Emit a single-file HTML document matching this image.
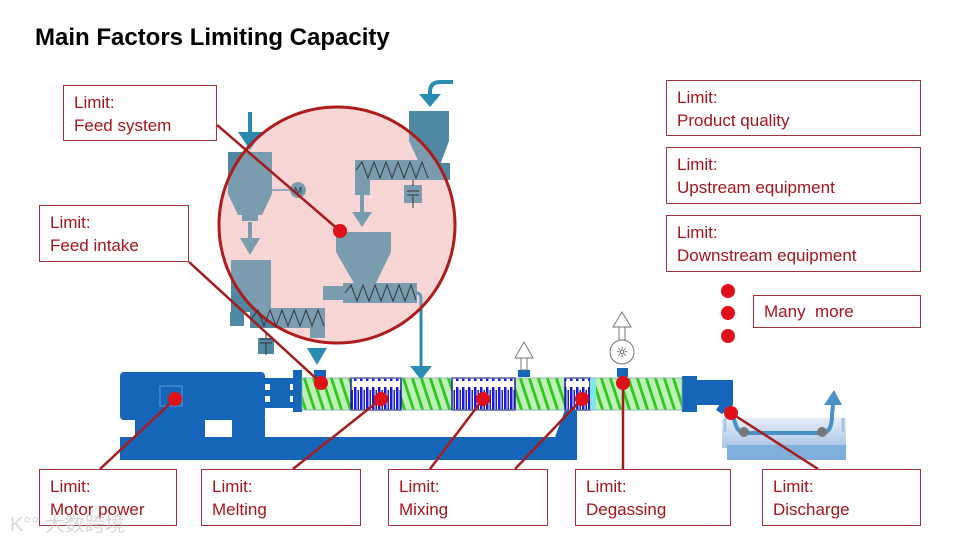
<!DOCTYPE html>
<html><head><meta charset="utf-8"><style>
body{margin:0;background:#fff;}
.box{position:absolute;border:1.3px solid #a8323a;background:#fff;box-sizing:border-box;color:#a8141c;font:17px/23px "Liberation Sans",sans-serif;padding:5px 0 0 10px;}
</style></head><body>
<div style="position:relative;width:960px;height:540px;overflow:hidden;font-family:'Liberation Sans',sans-serif;">
<svg width="960" height="540" style="position:absolute;left:0;top:0">
<defs>
<pattern id="gr" width="9" height="32" patternUnits="userSpaceOnUse" patternTransform="skewX(18)">
<rect width="9" height="32" fill="#bff0b8"/><rect x="0" width="3" height="32" fill="#2ec820"/></pattern>
<pattern id="bl" width="6" height="32" patternUnits="userSpaceOnUse">
<rect width="6" height="32" fill="#fff"/><rect x="0" y="3" width="2.5" height="26" fill="#1a1adc"/><rect x="3.5" y="6" width="1.5" height="20" fill="#2020b0"/></pattern>
<linearGradient id="wb" x1="0" y1="0" x2="0" y2="1"><stop offset="0" stop-color="#e6eef8"/><stop offset="1" stop-color="#a9c4e2"/></linearGradient>
</defs>
<text x="35" y="45" font-size="24" font-weight="bold" fill="#000" font-family="Liberation Sans">Main Factors Limiting Capacity</text>
<circle cx="337" cy="225" r="118" fill="#f8d6d6"/>
<g fill="#4f88a2">
<rect x="248" y="112" width="4" height="24" fill="#2a8bb0"/><polygon points="238,132 262,132 250,150" fill="#2a8bb0"/>
<rect x="228" y="152" width="44" height="42"/><polygon points="228,194 272,194 262,215 238,215"/><rect x="242" y="215" width="16" height="6"/>
<line x1="272" y1="190" x2="290" y2="190" stroke="#4f88a2" stroke-width="1.5"/>
<circle cx="298" cy="190" r="8"/>
<rect x="248" y="222" width="4" height="20"/><polygon points="240,238 260,238 250,255"/>
<rect x="231" y="260" width="40" height="52"/><rect x="250" y="308" width="75" height="20"/><rect x="230" y="312" width="14" height="14"/>
<rect x="310" y="326" width="15" height="12"/><rect x="258" y="338" width="16" height="16"/>
<polygon points="307,348 327,348 317,365" fill="#2a8bb0"/>
<path d="M453,82 L440,82 Q430,82 430,92 L430,96" stroke="#2a8bb0" stroke-width="4" fill="none"/>
<polygon points="419,94 441,94 430,107" fill="#2a8bb0"/>
<rect x="409" y="111" width="40" height="30"/><polygon points="409,141 449,141 440,165 420,165"/>
<rect x="355" y="160" width="75" height="20"/><rect x="430" y="163" width="20" height="17"/><rect x="355" y="180" width="15" height="15"/>
<rect x="404" y="185" width="18" height="18"/>
<rect x="360" y="195" width="4" height="20"/><polygon points="352,212 372,212 362,227"/>
<rect x="336" y="232" width="55" height="20"/><polygon points="336,252 391,252 375,285 355,285"/>
<rect x="343" y="283" width="74" height="20"/><rect x="323" y="286" width="20" height="14"/>
<path d="M417,293 Q421,293 421,300 L421,370" stroke="#2a8bb0" stroke-width="3" fill="none"/>
<polygon points="410,366 432,366 421,380" fill="#2a8bb0"/>
</g>
<circle cx="337" cy="225" r="118" fill="rgba(248,214,214,0.25)" stroke="#b01c1c" stroke-width="3"/>
<g stroke="#333" stroke-width="1" fill="none">
<polyline points="252,318 258,310 264,326 270,310 276,326 282,310 288,326 294,310 300,326 306,310 312,326 318,310 324,326"/>
<polyline points="356,170 362,162 368,178 374,162 380,178 386,162 392,178 398,162 404,178 410,162 416,178 422,162 428,178"/>
<polyline points="345,293 351,285 357,301 363,285 369,301 375,285 381,301 387,285 393,301 399,285 405,301 411,285 416,300"/>
<path d="M266,333 v6 M260,339 h12 M260,343 h12 M266,343 v12"/>
<path d="M413,180 v6 M407,191 h12 M407,195 h12 M413,195 v13"/>
</g>
<text x="298" y="194" font-size="10" text-anchor="middle" fill="#234">M</text>
<g fill="#1566b8">
<rect x="120" y="372" width="145" height="48" rx="4"/>
<rect x="135" y="418" width="70" height="20"/><rect x="232" y="418" width="33" height="20"/>
<rect x="120" y="437" width="457" height="23"/>
<rect x="265" y="378" width="30" height="6"/><rect x="265" y="390" width="30" height="6"/><rect x="265" y="402" width="30" height="6"/>
<rect x="270" y="384" width="20" height="24"/>
<rect x="293" y="370" width="9" height="42"/>
<polygon points="565,410 577,410 577,437 555,437"/>
<rect x="682" y="376" width="15" height="36"/><rect x="697" y="380" width="36" height="25"/>
<polygon points="733,405 720,404 716,410 722,414"/>
<rect x="314" y="370" width="12" height="8"/><rect x="518" y="370" width="12" height="7"/><rect x="617" y="368" width="11" height="9"/>
</g>
<rect x="160" y="386" width="22" height="20" fill="none" stroke="#5a9ad8" stroke-width="1"/>
<rect x="302" y="378" width="380" height="32" fill="url(#gr)"/>
<rect x="351" y="378" width="50" height="32" fill="url(#bl)" stroke="#1a1a9c" stroke-width="1.5"/>
<rect x="452" y="378" width="63" height="32" fill="url(#bl)" stroke="#1a1a9c" stroke-width="1.5"/>
<rect x="565" y="378" width="25" height="32" fill="url(#bl)" stroke="#1a1a9c" stroke-width="1.5"/>
<rect x="590" y="378" width="6" height="32" fill="#7fe6ee"/>
<rect x="302" y="378" width="380" height="32" fill="none" stroke="#8ab" stroke-width="0.8"/>
<polygon points="524,342 515,358 533,358" fill="#fff" stroke="#777"/><rect x="521" y="358" width="6" height="12" fill="#fff" stroke="#777"/>
<polygon points="622,312 613,327 631,327" fill="#fff" stroke="#777"/><rect x="619" y="327" width="6" height="13" fill="#fff" stroke="#777"/>
<circle cx="622" cy="352" r="12" fill="#fff" stroke="#777"/><text x="622" y="357" font-size="14" text-anchor="middle" fill="#333" font-family="DejaVu Sans">☼</text>
<rect x="722" y="418" width="124" height="30" fill="url(#wb)"/>
<rect x="727" y="445" width="119" height="15" fill="#7fb0dc"/>
<path d="M725,418 V432 M843,418 V432" stroke="#a9c4e2" stroke-width="3"/>
<path d="M733,412 Q735,433 745,433 L822,433 Q832,433 832,415 L833,404" stroke="#4a90c8" stroke-width="4" fill="none"/>
<polygon points="824,405 842,405 834,390" fill="#4a90c8"/>
<circle cx="744" cy="432" r="5" fill="#777"/><circle cx="822" cy="432" r="5" fill="#777"/>
<g stroke="#a51c1c" stroke-width="2.5">
<line x1="217" y1="125" x2="340" y2="231"/>
<line x1="189" y1="262" x2="321" y2="383"/>
<line x1="100" y1="469" x2="175" y2="399"/>
<line x1="293" y1="469" x2="381" y2="399"/>
<line x1="430" y1="469" x2="483" y2="399"/>
<line x1="515" y1="469" x2="582" y2="399"/>
<line x1="623" y1="469" x2="623" y2="383"/>
<line x1="818" y1="469" x2="731" y2="413"/>
</g>
<g fill="#e0101a">
<circle cx="340" cy="231" r="7"/><circle cx="321" cy="383" r="7"/><circle cx="175" cy="399" r="7"/>
<circle cx="381" cy="399" r="7"/><circle cx="483" cy="399" r="7"/><circle cx="582" cy="399" r="7"/>
<circle cx="623" cy="383" r="7"/><circle cx="731" cy="413" r="7"/>
<circle cx="728" cy="291" r="7"/><circle cx="728" cy="313" r="7"/><circle cx="728" cy="336" r="7"/>
</g>
</svg>
<div class="box" style="left:63px;top:85px;width:154px;height:56px">Limit:<br>Feed system</div>
<div class="box" style="left:39px;top:205px;width:150px;height:57px">Limit:<br>Feed intake</div>
<div class="box" style="left:666px;top:80px;width:255px;height:56px">Limit:<br>Product quality</div>
<div class="box" style="left:666px;top:147px;width:255px;height:57px">Limit:<br>Upstream equipment</div>
<div class="box" style="left:666px;top:215px;width:255px;height:57px">Limit:<br>Downstream equipment</div>
<div class="box" style="left:753px;top:295px;width:168px;height:33px;padding-top:4px">Many&nbsp; more</div>
<div class="box" style="left:39px;top:469px;width:138px;height:57px">Limit:<br>Motor power</div>
<div class="box" style="left:201px;top:469px;width:160px;height:57px">Limit:<br>Melting</div>
<div class="box" style="left:388px;top:469px;width:160px;height:57px">Limit:<br>Mixing</div>
<div class="box" style="left:575px;top:469px;width:156px;height:57px">Limit:<br>Degassing</div>
<div class="box" style="left:762px;top:469px;width:159px;height:57px">Limit:<br>Discharge</div>
<div style="position:absolute;left:10px;top:508px;font:20px 'Liberation Sans','Noto Sans CJK SC',sans-serif;color:rgba(200,200,200,0.7)">K°° 大数跨境</div>
</div>
</body></html>
